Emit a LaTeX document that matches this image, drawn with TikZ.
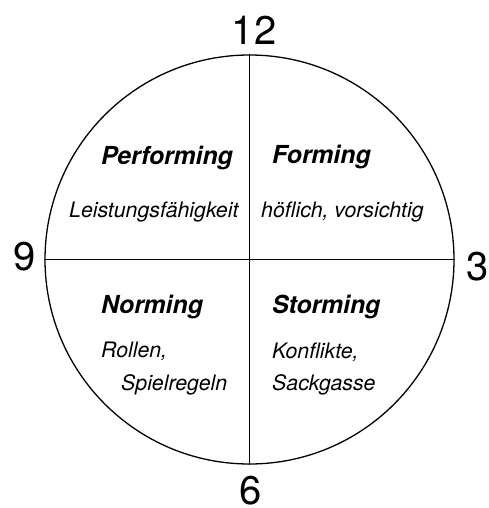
\documentclass[tikz,border=0pt]{standalone}
\usepackage{fontspec}
\setmainfont{TeX Gyre Heros}
\begin{document}
\begin{tikzpicture}[x=1pt,y=-1pt,
  clock/.style={circle,draw,line width=1.3pt,minimum size=409pt,inner sep=0pt},
  divider/.style={line width=1pt},
  hour/.style={inner sep=0pt,font=\fontsize{40}{40}\selectfont},
  phase/.style={inner sep=0pt,anchor=base west,font=\fontsize{24.8}{26}\selectfont\bfseries\itshape},
  note/.style={inner sep=0pt,anchor=base west,font=\fontsize{21.3}{22}\selectfont\itshape}]
\useasboundingbox (0,0) rectangle (488,508);
\node[clock] (c) at (249.5,259.5) {};
\draw[divider] (c.north) -- (c.south);
\draw[divider] (c.west) -- (c.east);
\node[hour,anchor=base] (h12) at (254,45) {12};
\node[hour] (h9) at (24.5,257) {9};
\node[hour] (h3) at (477.5,267) {3};
\node[hour] (h6) at (251,491) {6};
\node[phase] (perf) at (101,164) {Performing};
\node[note] (perfn) at (69,217) {Leistungsfähigkeit};
\node[phase] (form) at (272,163) {Forming};
\node[note] (formn) at (261,217) {höflich, vorsichtig};
\node[phase] (norm) at (101,313) {Norming};
\node[note] (normn1) at (101,357) {Rollen,};
\node[note] (normn2) at (121,390) {Spielregeln};
\node[phase] (storm) at (272,313) {Storming};
\node[note] (stormn1) at (272,358) {Konflikte,};
\node[note] (stormn2) at (272,390) {Sackgasse};
\end{tikzpicture}
\end{document}
